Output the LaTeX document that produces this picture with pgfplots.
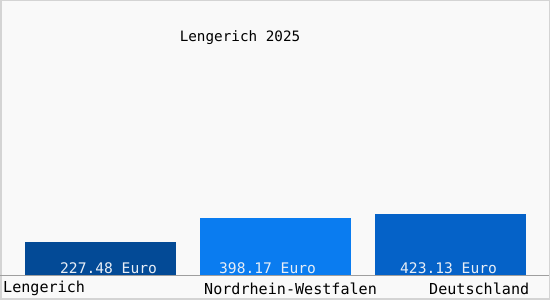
\documentclass[border=0pt]{standalone}
\usepackage{pgfplots}
\pgfplotsset{compat=1.18}
\usepackage{fontspec}
\setmainfont{DejaVu Sans Mono}
\definecolor{bgc}{HTML}{F9F9F9}
\definecolor{frc}{HTML}{D4D4D4}
\definecolor{cA}{HTML}{034A96}
\definecolor{cB}{HTML}{0A7CF0}
\definecolor{cC}{HTML}{0562C8}
\definecolor{lbl}{HTML}{E8EEF6}
\begin{document}
\begin{tikzpicture}[x=1pt,y=1pt]
\useasboundingbox (0,0) rectangle (550,300);
\fill[bgc] (0,0) rectangle (550,300);
\draw[frc,line width=1.5pt] (0.75,0.75) rectangle (549.25,299.25);
\begin{axis}[at={(0,0)},anchor=south west,
  scale only axis, width=550pt, height=300pt,
  xmin=0, xmax=550, ymin=-171.3, ymax=1909,
  hide axis, clip=false,
  ybar, bar width=151, bar shift=0pt,
  font=\fontsize{14.3}{16}\selectfont]
\addplot[draw=none, fill=cA] coordinates {(100.5,227.48)};
\addplot[draw=none, fill=cB] coordinates {(275.5,398.17)};
\addplot[draw=none, fill=cC] coordinates {(450.5,423.13)};
\addplot[sharp plot, draw=gray!75, line width=1pt] coordinates {(0,0) (549,0)};
\node[anchor=center] at (rel axis cs:0.4364,0.8733) {Lengerich 2025};
\begin{scope}[font=\fontsize{14.6}{16}\selectfont]
\node[anchor=west, text=lbl, inner sep=0pt] at (rel axis cs:{60/550},{1-268/300}) {227.48 Euro};
\node[anchor=west, text=lbl, inner sep=0pt] at (rel axis cs:{219/550},{1-268/300}) {398.17 Euro};
\node[anchor=west, text=lbl, inner sep=0pt] at (rel axis cs:{400/550},{1-268/300}) {423.13 Euro};
\end{scope}
\begin{scope}[font=\fontsize{15.1}{17}\selectfont]
\node[anchor=west, inner sep=0pt] at (rel axis cs:{3/550},{1-288.5/300}) {Lengerich};
\node[anchor=west, inner sep=0pt] at (rel axis cs:{204/550},{1-288.5/300}) {Nordrhein-Westfalen};
\node[anchor=west, inner sep=0pt] at (rel axis cs:{429/550},{1-288.5/300}) {Deutschland};
\end{scope}
\end{axis}
\end{tikzpicture}
\end{document}
